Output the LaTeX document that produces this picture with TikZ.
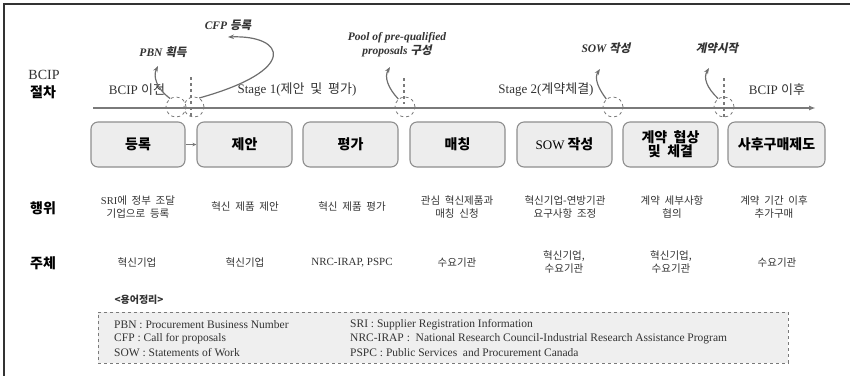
\documentclass[tikz,border=0pt]{standalone}
\usepackage{fontspec}
\setmainfont{Liberation Serif}
\newfontfamily\ko[WordSpace=2]{Noto Sans CJK KR}
\newfontfamily\kosl[FakeSlant=0.2]{Noto Sans CJK KR}
\usetikzlibrary{arrows.meta}

\definecolor{boxfill}{HTML}{EDEDED}
\definecolor{boxline}{HTML}{8E8E8E}
\definecolor{axisgray}{HTML}{7A7A7A}
\definecolor{ink}{HTML}{333333}
\definecolor{legendfill}{HTML}{EFEFEF}
\definecolor{framecol}{HTML}{333333}

\tikzset{
  stagebox/.style={draw=boxline, fill=boxfill, rounded corners=7pt, line width=1.1pt,
    minimum width=95pt, minimum height=45pt, inner sep=0pt, align=center,
    font=\ko\bfseries\fontsize{14}{15}\selectfont},
  sidelabel/.style={font=\ko\bfseries\fontsize{14}{16}\selectfont, text=black, align=center},
  phaselabel/.style={font=\fontsize{13}{15}\selectfont, text=ink},
  rowtext/.style={font=\ko\fontsize{10.5}{13}\selectfont, text=ink, align=center, inner sep=0pt},
  eventlabel/.style={font=\bfseries\itshape\fontsize{11.5}{14}\selectfont, text=ink, align=center, inner sep=0pt},
  milestone/.style={circle, draw=axisgray, dashed, line width=0.8pt, minimum size=20pt, inner sep=0pt},
  tickline/.style={draw=axisgray, dashed, line width=1.3pt},
  callout/.style={draw=axisgray!90!black, line width=1.2pt, -{Stealth[length=6pt,width=4.5pt]}},
  legendtext/.style={font=\fontsize{11.5}{13}\selectfont, text=ink, anchor=west, inner sep=0pt},
}

\begin{document}
\begin{tikzpicture}[x=1pt,y=-1pt]
\useasboundingbox (0,0) rectangle (850,376);

% frame edges
\coordinate (fr-tl) at (3.5,4);
\coordinate (fr-tr) at (850,4);
\coordinate (fr-bl) at (3.5,376);
\draw[framecol, line width=2pt] (fr-tr) -- (fr-tl) -- (fr-bl);

% left row headings
\node[font=\fontsize{14}{16}\selectfont, text=ink] (h-bcip) at (44,75) {BCIP};
\node[sidelabel] (h-proc) at (43,92) {절차};
\node[sidelabel] (h-act) at (43,208) {행위};
\node[sidelabel] (h-who) at (43,263) {주체};

% timeline axis
\coordinate (tl-start) at (93,108);
\coordinate (tl-end) at (816,108);
\draw[axisgray, line width=2pt, -{Latex[length=7pt,width=5pt]}] (tl-start) -- (tl-end);

% phase labels above the axis
\node[phaselabel] (ph0) at (137,90) {BCIP {\ko 이전}};
\node[phaselabel] (ph1) at (297,90) {Stage 1({\ko 제안 및 평가})};
\node[phaselabel] (ph2) at (546,90) {Stage 2({\ko 계약체결})};
\node[phaselabel] (ph3) at (777,90) {BCIP {\ko 이후}};

% dashed phase boundaries
\coordinate (v1a) at (191,77); \coordinate (v1b) at (191,117);
\coordinate (v2a) at (404,78); \coordinate (v2b) at (404,104);
\coordinate (v3a) at (724,78); \coordinate (v3b) at (724,117);
\draw[tickline] (v1a) -- (v1b);
\draw[tickline] (v2a) -- (v2b);
\draw[tickline] (v3a) -- (v3b);

% milestone markers on the axis
\node[milestone] (m-pbn) at (176,107) {};
\node[milestone] (m-cfp) at (194,107) {};
\node[milestone] (m-pool) at (405,107) {};
\node[milestone] (m-sow) at (613,107) {};
\node[milestone] (m-start) at (724,107) {};

% milestone captions
\node[eventlabel] (e-pbn) at (163,52) {PBN {\kosl\bfseries 획득}};
\node[eventlabel] (e-cfp) at (228,25) {CFP {\kosl\bfseries 등록}};
\node[eventlabel] (e-pool) at (397,45) {Pool of pre-qualified\\proposals {\kosl\bfseries 구성}};
\node[eventlabel] (e-sow) at (606,48) {SOW {\kosl\bfseries 작성}};
\node[eventlabel] (e-start) at (717,48) {{\kosl\bfseries 계약시작}};

% callout arrows from markers to captions
\coordinate (t-pbn) at (158,66);
\coordinate (t-cfp) at (228,37);
\coordinate (t-pool) at (390,67);
\coordinate (t-sow) at (600,69);
\coordinate (t-start) at (709,68);
\draw[callout] (m-pbn.125) .. controls (156,88) and (153,76) .. (t-pbn);
\draw[callout] (m-cfp.60) .. controls (300,70) and (285,35) .. (t-cfp);
\draw[callout] (m-pool.130) .. controls (388,88) and (384,77) .. (t-pool);
\draw[callout] (m-sow.130) .. controls (598,88) and (594,78) .. (t-sow);
\draw[callout] (m-start.125) .. controls (707,88) and (703,78) .. (t-start);

% process steps
\node[stagebox, minimum width=94pt] (s1) at (138,144.5) {등록};
\node[stagebox] (s2) at (244.5,144.5) {제안};
\node[stagebox] (s3) at (350.5,144.5) {평가};
\node[stagebox] (s4) at (457.5,144.5) {매칭};
\node[stagebox] (s5) at (564.5,144.5) {{\rmfamily\mdseries\fontsize{13}{15}\selectfont SOW}\hspace{3pt}작성};
\node[stagebox] (s6) at (670.5,144.5) {계약 협상\\[-1pt]및 체결};
\node[stagebox, minimum width=97pt] (s7) at (776.5,144.5) {사후구매제도};
\draw[axisgray, line width=0.9pt, -{Stealth[length=4pt,width=3.5pt]}] (s1.east) -- (s2.west);

% actions
\node[rowtext] (a1) at (138,207) {{\rmfamily SRI}에 정부 조달\\기업으로 등록};
\node[rowtext] (a2) at (245,207) {혁신 제품 제안};
\node[rowtext] (a3) at (352,207) {혁신 제품 평가};
\node[rowtext] (a4) at (457,207) {관심 혁신제품과\\매칭 신청};
\node[rowtext] (a5) at (565,207) {혁신기업-연방기관\\요구사항 조정};
\node[rowtext] (a6) at (672,207) {계약 세부사항\\협의};
\node[rowtext] (a7) at (774,207) {계약 기간 이후\\추가구매};

% actors
\node[rowtext] (w1) at (137,263) {혁신기업};
\node[rowtext] (w2) at (245,263) {혁신기업};
\node[rowtext, font=\fontsize{11}{13}\selectfont] (w3) at (352,263) {NRC-IRAP, PSPC};
\node[rowtext] (w4) at (457,263) {수요기관};
\node[rowtext] (w5) at (564,262) {혁신기업,\\수요기관};
\node[rowtext] (w6) at (671,262) {혁신기업,\\수요기관};
\node[rowtext] (w7) at (777,263) {수요기관};

% glossary
\node[font=\ko\bfseries\fontsize{10}{12}\selectfont, text=ink] (g-title) at (139,300) {<용어정리>};
\node[draw=axisgray, dashed, line width=0.8pt, fill=legendfill, minimum width=690pt,
      minimum height=51pt, inner sep=0pt] (legend) at (443,337.5) {};
\node[legendtext] (g1) at (114,325) {PBN : Procurement Business Number};
\node[legendtext] (g2) at (114,339) {CFP : Call for proposals};
\node[legendtext] (g3) at (114,353) {SOW : Statements of Work};
\node[legendtext] (g4) at (350,325) {SRI : Supplier Registration Information};
\node[legendtext] (g5) at (350,339) {NRC-IRAP :\ \ National Research Council-Industrial Research Assistance Program};
\node[legendtext] (g6) at (350,353) {PSPC : Public Services\ \ and Procurement Canada};
\end{tikzpicture}
\end{document}
